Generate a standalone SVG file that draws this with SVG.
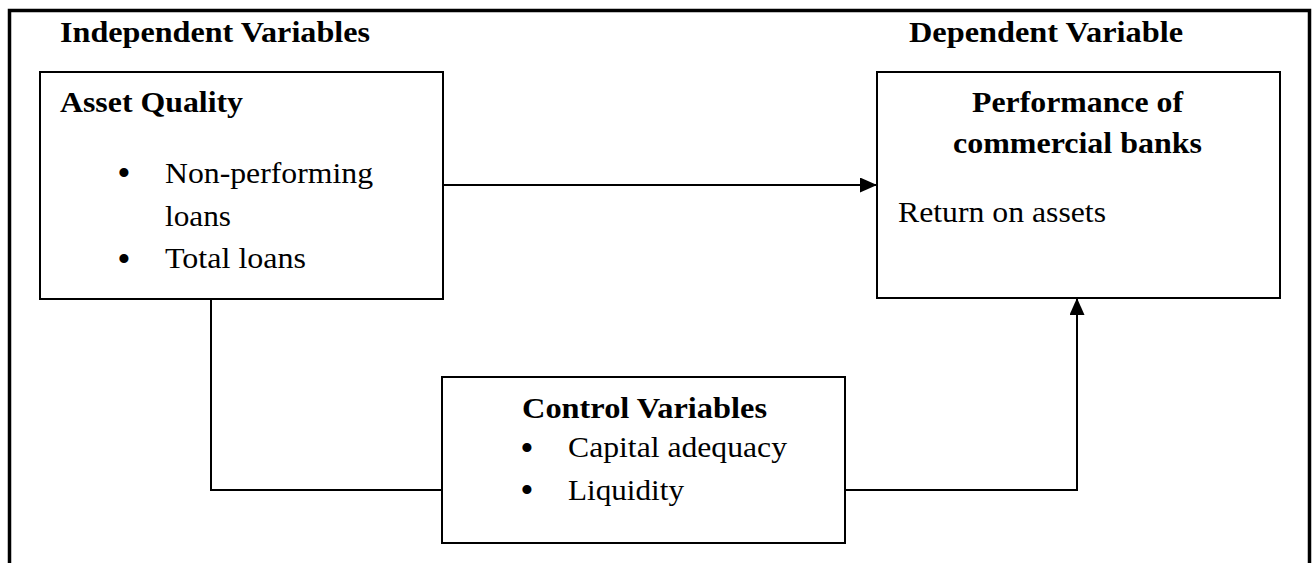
<svg xmlns="http://www.w3.org/2000/svg" width="1316" height="563" viewBox="0 0 1316 563">
<defs>
<style>
.box{fill:#fff;stroke:#000;stroke-width:2}
.frame{fill:none;stroke:#000;stroke-width:3.5}
.conn{fill:none;stroke:#000;stroke-width:2}
.b{font-weight:bold}
.dot{font-size:38px}
</style>
<marker id="arr" viewBox="0 0 17 15" refX="17" refY="7.5" markerWidth="17" markerHeight="15" markerUnits="userSpaceOnUse" orient="auto">
<path d="M0,0 L17,7.5 L0,15 Z" fill="#000"/>
</marker>
</defs>
<rect width="1316" height="563" fill="#fff"/>
<path class="frame" d="M9.5,563 V10.5 H1309.5 V563"/>
<g font-family="Liberation Serif, Times New Roman, serif" font-size="29" fill="#000">
<text class="b" x="60" y="42" textLength="310" lengthAdjust="spacingAndGlyphs">Independent Variables</text>
<text class="b" x="909" y="42" textLength="274" lengthAdjust="spacingAndGlyphs">Dependent Variable</text>
</g>
<g id="connectors">
<path class="conn" d="M443,185 H877" marker-end="url(#arr)"/>
<path class="conn" d="M211,299 V490 H442"/>
<path class="conn" d="M845,490 H1077 V298" marker-end="url(#arr)"/>
</g>
<g id="asset-quality" font-family="Liberation Serif, Times New Roman, serif" font-size="29" fill="#000">
<rect class="box" x="40" y="72" width="403" height="227"/>
<text class="b" x="60" y="112" textLength="183" lengthAdjust="spacingAndGlyphs">Asset Quality</text>
<text class="dot" x="124" y="186" text-anchor="middle">•</text>
<text x="165" y="183" textLength="208" lengthAdjust="spacingAndGlyphs">Non-performing</text>
<text x="165" y="226" textLength="66" lengthAdjust="spacingAndGlyphs">loans</text>
<text class="dot" x="124" y="272" text-anchor="middle">•</text>
<text x="165" y="268" textLength="141" lengthAdjust="spacingAndGlyphs">Total loans</text>
</g>
<g id="performance" font-family="Liberation Serif, Times New Roman, serif" font-size="29" fill="#000">
<rect class="box" x="877" y="72" width="403" height="226"/>
<text class="b" x="972" y="112" textLength="211" lengthAdjust="spacingAndGlyphs">Performance of</text>
<text class="b" x="953" y="153" textLength="249" lengthAdjust="spacingAndGlyphs">commercial banks</text>
<text x="898" y="222" textLength="208" lengthAdjust="spacingAndGlyphs">Return on assets</text>
</g>
<g id="control-variables" font-family="Liberation Serif, Times New Roman, serif" font-size="29" fill="#000">
<rect class="box" x="442" y="377" width="403" height="166"/>
<text class="b" x="522" y="418" textLength="245" lengthAdjust="spacingAndGlyphs">Control Variables</text>
<text class="dot" x="527" y="461" text-anchor="middle">•</text>
<text x="568" y="457" textLength="219" lengthAdjust="spacingAndGlyphs">Capital adequacy</text>
<text class="dot" x="527" y="503" text-anchor="middle">•</text>
<text x="568" y="500" textLength="116" lengthAdjust="spacingAndGlyphs">Liquidity</text>
</g>
</svg>
